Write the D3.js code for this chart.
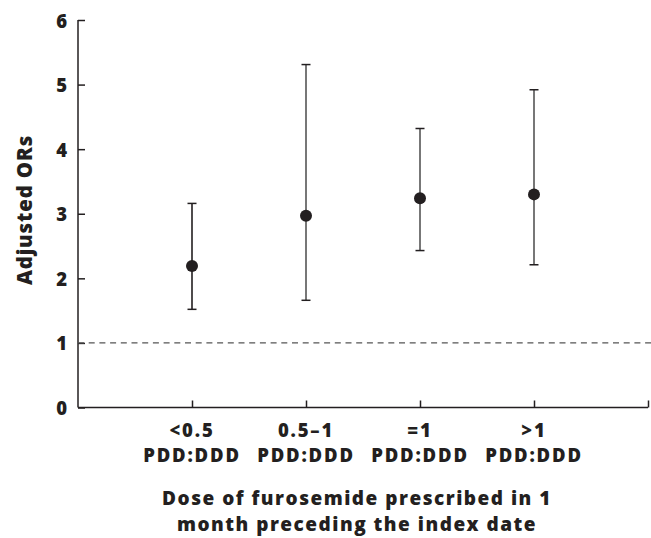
<!DOCTYPE html>
<html><head><meta charset="utf-8">
<script src="https://cdn.jsdelivr.net/npm/d3@7"></script>
<style>body{margin:0;background:#fff}svg{display:block}text{font-family:"Open Sans",Lato,sans-serif;font-weight:800;fill:#231f20}</style>
</head><body>
<script>
const categories = ["<0.5", "0.5\u20131", "=1", ">1"];
const categoryUnit = "PDD:DDD";
const orValues = [2.19, 2.97, 3.24, 3.30];
const ciLower = [1.52, 1.66, 2.43, 2.21];
const ciUpper = [3.16, 5.31, 4.32, 4.92];
const yTicks = [0, 1, 2, 3, 4, 5, 6];
const referenceLine = 1;
const yTitle = "Adjusted ORs";
const xTitleLines = ["Dose of furosemide prescribed in 1", "month preceding the index date"];

const W = 651, H = 538;
const FONT = "'Open Sans', Lato, sans-serif";
const svg = d3.select("body").append("svg").attr("width", W).attr("height", H);
const x = d3.scaleLinear().domain([0, categories.length + 1]).range([78, 648]);
const y = d3.scaleLinear().domain([0, 6]).range([407.5, 20]);
const ink = "#231f20";

// y axis
const yAx = svg.append("g").attr("transform", `translate(${x(0)},0)`)
  .call(d3.axisLeft(y).tickValues(yTicks).tickSize(-7).tickPadding(11).tickFormat(d3.format("d")));
yAx.selectAll("path,line").attr("stroke", ink).attr("stroke-width", 1.5);
yAx.selectAll("text").attr("font-size", 18.5).attr("font-family", FONT).attr("font-weight", 800).attr("fill", ink).attr("dy", "0.38em");
yAx.select(".domain").attr("d", `M0,${y(6)}H0V${y(0)}`);

// x axis
const xAx = svg.append("g").attr("transform", `translate(0,${y(0)})`)
  .call(d3.axisBottom(x).tickValues(d3.range(1, categories.length + 2)).tickSize(-7).tickFormat(""));
xAx.selectAll("path,line").attr("stroke", ink).attr("stroke-width", 1.5);
xAx.select(".domain").attr("d", `M${x(0)},0H${x(categories.length + 1)}`);

// category labels
const lab = svg.append("g").selectAll("text").data(categories).join("text")
  .attr("x", (d, i) => x(i + 1)).attr("text-anchor", "middle").attr("font-size", 18.5).attr("letter-spacing", 1.8);
lab.append("tspan").attr("x", (d, i) => x(i + 1)).attr("y", 437).text(d => d);
lab.append("tspan").attr("x", (d, i) => x(i + 1)).attr("y", 462).text(categoryUnit);

// reference line
svg.append("line").attr("x1", x(0)).attr("x2", W).attr("y1", y(referenceLine)).attr("y2", y(referenceLine))
  .attr("stroke", "#555").attr("stroke-width", 1.3).attr("stroke-dasharray", "6,4.7");

// error bars
const g = svg.append("g");
categories.forEach((c, i) => {
  const cx = x(i + 1), col = i === 0 ? ink : "#555";
  g.append("line").attr("x1", cx).attr("x2", cx).attr("y1", y(ciLower[i])).attr("y2", y(ciUpper[i])).attr("stroke", col).attr("stroke-width", 1.6);
  [ciLower[i], ciUpper[i]].forEach(v => g.append("line").attr("x1", cx - 4.5).attr("x2", cx + 4.5).attr("y1", y(v)).attr("y2", y(v)).attr("stroke", ink).attr("stroke-width", 1.5));
  g.append("circle").attr("cx", cx).attr("cy", y(orValues[i])).attr("r", 6).attr("fill", ink);
});

// titles
svg.append("text").attr("transform", `translate(32,210) rotate(-90)`).attr("text-anchor", "middle").attr("font-size", 20.5).attr("letter-spacing", 0.8).text(yTitle);
svg.append("text").attr("text-anchor", "middle").attr("font-size", 19).attr("letter-spacing", 1.5).selectAll("tspan").data(xTitleLines).join("tspan")
  .attr("x", 357).attr("y", (d, i) => 505 + i * 26).text(d => d);
</script>
</body></html>
